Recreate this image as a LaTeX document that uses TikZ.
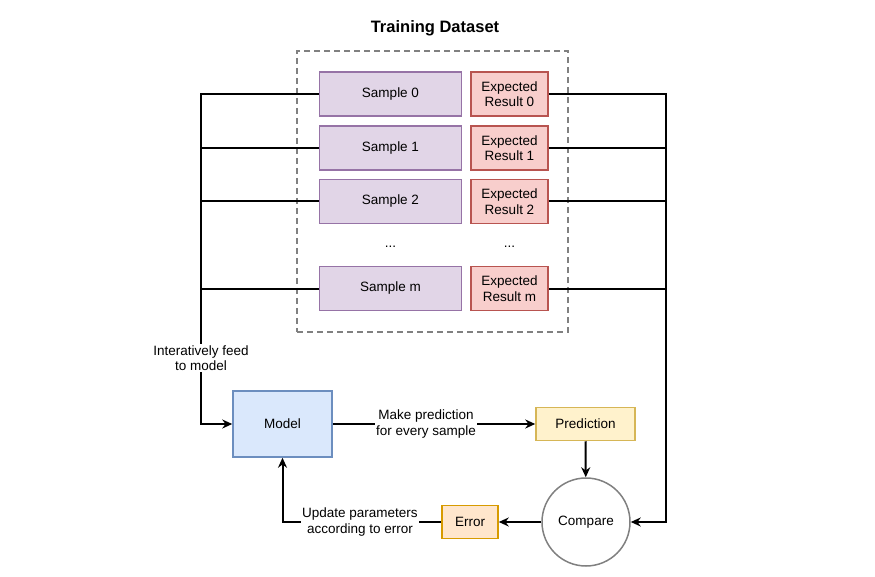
\documentclass[tikz,border=0pt]{standalone}
\usepackage{fontspec}
\setmainfont{Liberation Sans}
\usetikzlibrary{arrows.meta,positioning}
\definecolor{smpfill}{HTML}{E1D5E7}
\definecolor{smpline}{HTML}{9673A6}
\definecolor{expfill}{HTML}{F8CECC}
\definecolor{expline}{HTML}{B85450}
\definecolor{mdlfill}{HTML}{DAE8FC}
\definecolor{mdlline}{HTML}{6C8EBF}
\definecolor{prdfill}{HTML}{FFF2CC}
\definecolor{prdline}{HTML}{D6B656}
\definecolor{errfill}{HTML}{FFE6CC}
\definecolor{errline}{HTML}{D79B00}
\definecolor{cmpline}{HTML}{808080}
\tikzset{
  line/.style={line width=2pt},
  arr/.style={line, -{Stealth[length=10pt,width=9pt]}},
  box/.style={line width=1.5pt, font=\fontsize{13.5}{15.5}\selectfont, align=center, inner sep=0pt},
  sample/.style={box, draw=smpline, fill=smpfill, minimum width=142pt, minimum height=44pt},
  expect/.style={box, draw=expline, fill=expfill, minimum width=77pt, minimum height=44pt},
  lbl/.style={fill=white, inner sep=1pt, align=center, font=\fontsize{13.5}{15.5}\selectfont}
}

\begin{document}
\begin{tikzpicture}[x=1pt,y=-1pt]
  \useasboundingbox (0,0) rectangle (875,577);
  % training data
  \node (title) at (435,28) {\fontsize{16.5}{18}\selectfont\bfseries Training Dataset};
  \node (set) [draw=cmpline, dashed, dash pattern=on 6pt off 4pt, line width=1.5pt,
    minimum width=271pt, minimum height=281pt] at (432.5,191.5) {};
  \node (s0) [sample] at (390.5,94) {Sample 0};
  \node (s1) [sample] at (390.5,148) {Sample 1};
  \node (s2) [sample] at (390.5,201.5) {Sample 2};
  \node (sm) [sample] at (390.5,288.5) {Sample m};
  \node (e0) [expect] at (509.5,94) {Expected\\Result 0};
  \node (e1) [expect] at (509.5,148) {Expected\\Result 1};
  \node (e2) [expect] at (509.5,201.5) {Expected\\Result 2};
  \node (em) [expect] at (509.5,288.5) {Expected\\Result m};
  \node (dots1) [box] at (390.5,247) {...};
  \node (dots2) [box] at (509.5,247) {...};
  % training loop
  \node (model) [box, draw=mdlline, fill=mdlfill, minimum width=99pt, minimum height=66pt] at (282.5,424) {Model};
  \node (pred) [box, draw=prdline, fill=prdfill, minimum width=99pt, minimum height=33pt] at (585.5,424) {Prediction};
  \node (cmp) [box, draw=cmpline, fill=white, circle, minimum size=88pt] at (586,522) {Compare};
  \node (err) [box, draw=errline, fill=errfill, minimum width=56pt, minimum height=33pt] at (470,522) {Error};
  \coordinate (ltop) at (201,94);
  \coordinate (rtop) at (666,94);

  \draw[arr] (s0.west) -- (ltop) |- node[lbl, pos=0.4] {Interatively feed\\to model} (model.west);
  \foreach \n in {1,2,m}
    \draw[line] (s\n.west) -- (s\n.west -| ltop);
  \draw[arr] (e0.east) -- (rtop) |- (cmp.east);
  \foreach \n in {1,2,m}
    \draw[line] (e\n.east) -- (e\n.east -| rtop);
  \draw[arr] (model) -- node[lbl, pos=0.46] {Make prediction\\for every sample} (pred);
  \draw[arr] (pred) -- (cmp);
  \draw[arr] (cmp) -- (err);
  \draw[arr] (err.west) -| node[lbl, pos=0.256] {Update parameters\\according to error} (model.south);
\end{tikzpicture}
\end{document}
